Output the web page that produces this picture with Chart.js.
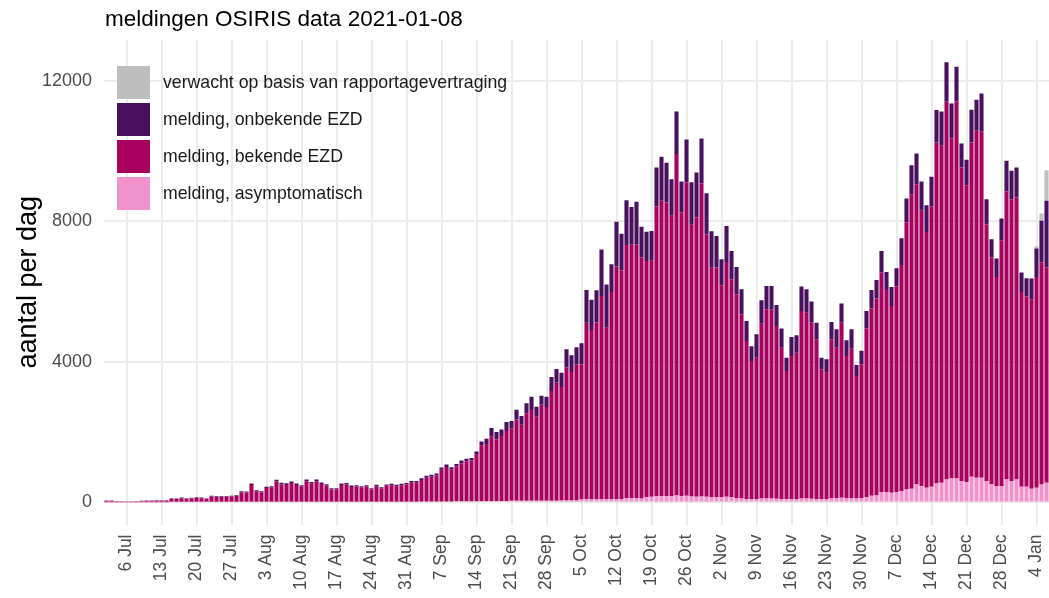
<!DOCTYPE html>
<html lang="nl">
<head>
<meta charset="utf-8">
<title>meldingen OSIRIS</title>
<script src="https://cdn.jsdelivr.net/npm/chart.js@4.4.1/dist/chart.umd.min.js"></script>
<style>
  body { margin: 0; background: #fff; font-family: 'Liberation Sans', Arial, sans-serif; }
  #wrap { position: relative; width: 1049px; height: 598px; overflow: hidden; }
  #titel { position: absolute; left: 105px; top: 8px; font-size: 22.5px; line-height: 1; color: #000; white-space: nowrap; }
  #legenda { position: absolute; left: 117px; top: 66px; }
  .item { display: flex; align-items: center; height: 33px; margin-bottom: 4px; }
  .box { width: 33px; height: 33px; margin-right: 13px; }
  .txt { font-size: 17.7px; color: #1a1a1a; white-space: nowrap; }
</style>
</head>
<body>
<div id="wrap">
  <canvas id="grafiek" width="1049" height="598"></canvas>
  <div id="titel">meldingen OSIRIS data 2021-01-08</div>
  <div id="legenda"></div>
</div>
<script>
// eerste dag in de grafiek
const startDatum = [2020, 6, 2];
const maanden = ['Jan', 'Feb', 'Mar', 'Apr', 'May', 'Jun', 'Jul', 'Aug', 'Sep', 'Oct', 'Nov', 'Dec'];

const tickLabels = ['6 Jul', '13 Jul', '20 Jul', '27 Jul', '3 Aug', '10 Aug', '17 Aug', '24 Aug', '31 Aug',
    '7 Sep', '14 Sep', '21 Sep', '28 Sep', '5 Oct', '12 Oct', '19 Oct', '26 Oct', '2 Nov', '9 Nov',
    '16 Nov', '23 Nov', '30 Nov', '7 Dec', '14 Dec', '21 Dec', '28 Dec', '4 Jan'];
const yTicks = [0, 4000, 8000, 12000];

// melding, asymptomatisch
const asymptomatisch = [
    // jul
    10, 10, 8, 6, 6, 6, 8, 8, 10, 10, 10, 10, 10, 12, 12, 14, 12, 12, 14, 14, 12, 16, 16, 16, 16, 16, 16, 18, 18, 20,
    // aug
    18, 18, 20, 20, 22, 22, 22, 22, 22, 20, 22, 22, 22, 22, 20, 20, 20, 22, 22, 20, 20, 20, 20, 20, 20, 20, 22, 22, 22, 22, 24,
    // sep
    24, 24, 26, 28, 28, 28, 30, 30, 30, 32, 32, 34, 34, 36, 40, 40, 42, 42, 44, 44, 46, 46, 46, 48, 48, 48, 50, 50, 52, 52,
    // okt
    55, 55, 55, 58, 85, 90, 85, 90, 100, 90, 90, 100, 100, 120, 120, 125, 115, 150, 160, 180, 185, 185, 180, 200, 180, 190, 170, 165, 170, 165, 150,
    // nov
    150, 155, 160, 150, 130, 110, 100, 95, 100, 110, 110, 110, 105, 100, 90, 95, 100, 110, 110, 105, 100, 95, 100, 130, 125, 135, 125, 130, 110, 120,
    // dec
    150, 190, 200, 290, 290, 280, 295, 323, 370, 390, 513, 465, 418, 446, 541, 560, 655, 684, 684, 608, 580, 731, 703, 703, 608, 513, 465, 465, 655, 608, 655,
    // jan
    446, 446, 390, 418, 513, 560
];

// melding, bekende EZD
const bekendeEZD = [
    37, 37, 22, 16, 16, 16, 22, 30, 37, 37, 44, 44, 38, 93, 84, 108, 93, 103, 118, 108, 84, 152, 142, 142, 142, 152, 169, 275, 265, 481,
    303, 275, 391, 410, 574, 493, 478, 531, 479, 434, 583, 513, 583, 503, 462, 353, 353, 479, 489, 424, 434, 410, 434, 353, 443, 382, 451, 470, 441, 470, 487,
    539, 539, 617, 677, 705, 743, 902, 980, 900, 1001, 1085, 1141, 1160, 1323, 1589, 1625, 1827, 1753, 1847, 1989, 2062, 2320, 2168, 2489, 2584, 2394, 2734, 2667, 3121, 3359,
    3235, 3791, 3660, 3860, 3845, 5030, 4825, 5032, 5780, 4888, 5903, 6620, 6505, 7214, 7215, 7228, 6857, 6728, 6720, 8247, 8403, 8355, 7980, 9718, 8076, 8920, 7734, 7948, 8912, 7473, 6530,
    6540, 6030, 6690, 6206, 5798, 5248, 4498, 3935, 4023, 4982, 5390, 5390, 4921, 4308, 3653, 4075, 4165, 5343, 5295, 5015, 4545, 3695, 3595, 4515, 4283, 4985, 4045, 4249, 3490, 3810,
    4800, 5330, 5605, 6255, 5761, 5315, 5851, 6441, 7600, 8369, 8550, 7838, 7286, 7980, 9709, 9595, 10754, 9680, 10735, 8930, 8454, 9519, 9880, 9861, 7315, 6460, 5957, 7002, 8199, 8027, 8028,
    5548, 5415, 5395, 6004, 6317, 6140
];

// melding, onbekende EZD
const onbekendeEZD = [
    10, 10, 8, 6, 6, 6, 8, 9, 10, 10, 12, 12, 12, 18, 18, 20, 18, 18, 20, 20, 18, 22, 22, 22, 22, 22, 24, 30, 30, 40,
    30, 30, 35, 35, 50, 45, 45, 45, 40, 40, 50, 45, 50, 45, 40, 35, 35, 40, 40, 40, 40, 35, 40, 35, 40, 35, 40, 40, 40, 40, 40,
    45, 45, 50, 55, 55, 55, 65, 70, 70, 60, 80, 70, 70, 95, 110, 150, 250, 210, 190, 257, 210, 275, 247, 285, 380, 285, 256, 295, 399, 389,
    400, 515, 475, 500, 600, 930, 860, 920, 1320, 1226, 790, 1275, 1045, 1273, 1075, 1207, 875, 827, 850, 1111, 1254, 1131, 1046, 1216, 883, 1226, 1216, 1283, 1283, 1169, 1040,
    900, 740, 1025, 807, 779, 712, 570, 420, 665, 665, 666, 666, 598, 542, 380, 542, 495, 693, 665, 599, 475, 333, 380, 494, 522, 542, 447, 551, 314, 390,
    503, 531, 531, 618, 513, 542, 523, 760, 684, 845, 874, 836, 760, 846, 922, 979, 1121, 998, 988, 684, 722, 931, 883, 1083, 712, 522, 522, 617, 874, 808, 855,
    551, 523, 589, 807, 1188, 1888
];

// verwacht op basis van rapportagevertraging (alleen de laatste dagen)
const verwachtLaatsteDagen = [60, 210, 874];
const verwacht = new Array(asymptomatisch.length - verwachtLaatsteDagen.length).fill(0).concat(verwachtLaatsteDagen);

const dagen = asymptomatisch.map((_, i) => {
    const d = new Date(Date.UTC(startDatum[0], startDatum[1], startDatum[2] + i));
    return d.getUTCDate() + ' ' + maanden[d.getUTCMonth()];
});

const series = [
    { label: 'melding, asymptomatisch', data: asymptomatisch, color: '#f092cc' },
    { label: 'melding, bekende EZD', data: bekendeEZD, color: '#a8005e' },
    { label: 'melding, onbekende EZD', data: onbekendeEZD, color: '#48105f' },
    { label: 'verwacht op basis van rapportagevertraging', data: verwacht, color: '#bebebe' }
];

// legenda (bovenste eerst)
const legenda = document.getElementById('legenda');
series.slice().reverse().forEach(s => {
    legenda.innerHTML += `<div class="item"><span class="box" style="background:${s.color}"></span><span class="txt">${s.label}</span></div>`;
});

const fontFam = "'Liberation Sans', Arial, sans-serif";

new Chart(document.getElementById('grafiek').getContext('2d'), {
    type: 'bar',
    data: {
        labels: dagen,
        datasets: series.map(s => ({
            label: s.label,
            data: s.data,
            backgroundColor: s.color,
            borderWidth: 0,
            barPercentage: 1,
            categoryPercentage: 0.82
        }))
    },
    options: {
        responsive: false,
        animation: false,
        layout: { padding: { top: 40, right: 0, left: 0, bottom: 0 } },
        plugins: {
            legend: { display: false },
            tooltip: { enabled: false }
        },
        scales: {
            x: {
                stacked: true,
                border: { display: false },
                grid: {
                    offset: false,
                    drawTicks: false,
                    lineWidth: 2,
                    color: c => (c.tick && tickLabels.includes(dagen[c.tick.value])) ? '#ebebeb' : 'rgba(0,0,0,0)'
                },
                ticks: {
                    autoSkip: false,
                    maxRotation: 90,
                    minRotation: 90,
                    padding: 10,
                    color: '#4d4d4d',
                    font: { family: fontFam, size: 17.5 },
                    callback: function (val) {
                        const l = this.getLabelForValue(val);
                        return tickLabels.includes(l) ? l : '';
                    }
                },
                afterFit: s => {
                    s.height = 73.5;
                    s.paddingLeft = 0;
                    s.paddingRight = 0;
                }
            },
            y: {
                stacked: true,
                min: -627,
                max: 13167,
                border: { display: false },
                afterBuildTicks: s => { s.ticks = yTicks.map(v => ({ value: v })); },
                grid: { drawTicks: false, color: '#ebebeb', lineWidth: 2 },
                ticks: {
                    padding: 12,
                    color: '#4d4d4d',
                    font: { family: fontFam, size: 18 },
                    callback: v => String(v)
                },
                title: {
                    display: true,
                    text: 'aantal per dag',
                    color: '#000',
                    font: { family: fontFam, size: 27 },
                    padding: { top: 12, bottom: 0 }
                },
                afterFit: s => {
                    s.width = 104;
                    s.paddingTop = 0;
                    s.paddingBottom = 0;
                }
            }
        }
    }
});
</script>
</body>
</html>
